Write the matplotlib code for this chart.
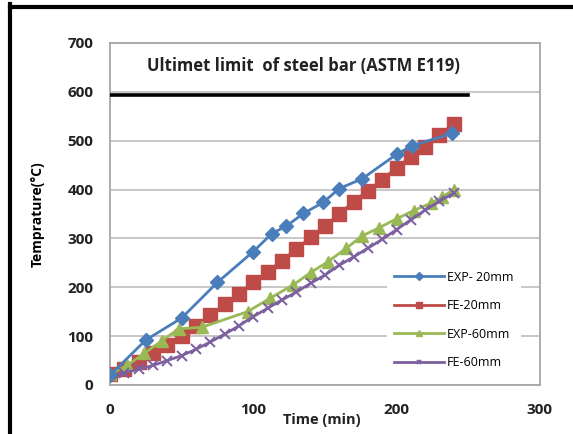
import matplotlib.pyplot as plt
from matplotlib.lines import Line2D

# temperature readings (°C) against time (min)
exp20_t = [0, 25, 50, 75, 100, 113, 123, 135, 149, 160, 176, 200, 211, 239]
exp20_T = [20, 92, 137, 210, 273, 310, 325, 351, 374, 402, 422, 472, 490, 515]

fe20_t = list(range(0, 250, 10))
fe20_T = [22, 33, 48, 65, 82, 100, 120, 143, 165, 187, 210, 232, 254, 278,
          302, 325, 350, 375, 398, 420, 445, 467, 488, 512, 535]

exp60_t = [0, 12, 24, 36, 48, 64, 96, 112, 128, 140, 152, 165, 176, 188,
           200, 212, 224, 232, 240]
exp60_T = [22, 40, 65, 90, 115, 118, 150, 178, 205, 230, 252, 280, 305, 322,
           340, 357, 372, 385, 400]

fe60_t = list(range(0, 250, 10))
fe60_T = [20, 25, 32, 40, 50, 60, 73, 88, 104, 121, 140, 157, 174, 190,
          208, 225, 245, 262, 280, 298, 318, 338, 358, 376, 393]

limit_t = [0, 250]
limit_T = [593, 593]

font = "Open Sans"

fig = plt.figure(figsize=(5.73, 4.34), dpi=100)
ax = fig.add_axes([0.192, 0.113, 0.750, 0.788])

ax.plot(limit_t, limit_T, color="black", lw=2.6, zorder=3)
ax.plot(exp20_t, exp20_T, color="#4a7ebb", lw=2, marker="D", ms=7.5, label="EXP- 20mm", zorder=4)
ax.plot(fe20_t, fe20_T, color="#be4b48", lw=2, marker="s", ms=9.5, label="FE-20mm", zorder=3)
ax.plot(exp60_t, exp60_T, color="#98b954", lw=2, marker="^", ms=8, label="EXP-60mm", zorder=3)
ax.plot(fe60_t, fe60_T, color="#7d60a0", lw=2, marker="x", ms=7, mew=1.4, label="FE-60mm", zorder=3)

ax.set_xlim(0, 300)
ax.set_ylim(0, 700)
ax.set_xticks([0, 100, 200, 300])
ax.set_yticks(range(0, 800, 100))
ax.grid(axis="y", color="#bdbdbd", lw=1.2)
ax.set_axisbelow(True)
ax.tick_params(length=0, labelsize=11)
ax.tick_params(axis="y", pad=12)
ax.tick_params(axis="x", pad=13)
for lab in ax.get_xticklabels() + ax.get_yticklabels():
    lab.set_fontfamily(font)
    lab.set_fontweight("bold")
    lab.set_color("#222222")
for s in ax.spines.values():
    s.set_color("#a6a6a6")
    s.set_linewidth(1.3)

ax.text(135, 653, "Ultimet limit  of steel bar (ASTM E119)", ha="center", va="center",
        fontsize=12, fontweight="bold", family=font, color="#222222")

ax.set_ylabel("Temprature(°C)", fontsize=10, fontweight="bold", family=font, labelpad=16)
fig.text(0.562, 0.033, "Time (min)", ha="center", va="center", fontsize=10.5,
         fontweight="bold", family=font, color="#222222")

leg = ax.legend(loc="lower right", bbox_to_anchor=(0.97, 0.005), frameon=True,
                edgecolor="none", facecolor="white", framealpha=1,
                prop={"family": font, "size": 9}, handlelength=4.0,
                labelspacing=1.25, markerscale=0.5, borderpad=0.6, handletextpad=0.2)
leg.set_zorder(5)

# black frame along the left and top edges
fig.add_artist(Line2D([0.017, 0.017], [0, 0.99], color="black", lw=3))
fig.add_artist(Line2D([0.017, 1.0], [0.985, 0.985], color="black", lw=3))

fig.savefig("out.png", dpi=100)
